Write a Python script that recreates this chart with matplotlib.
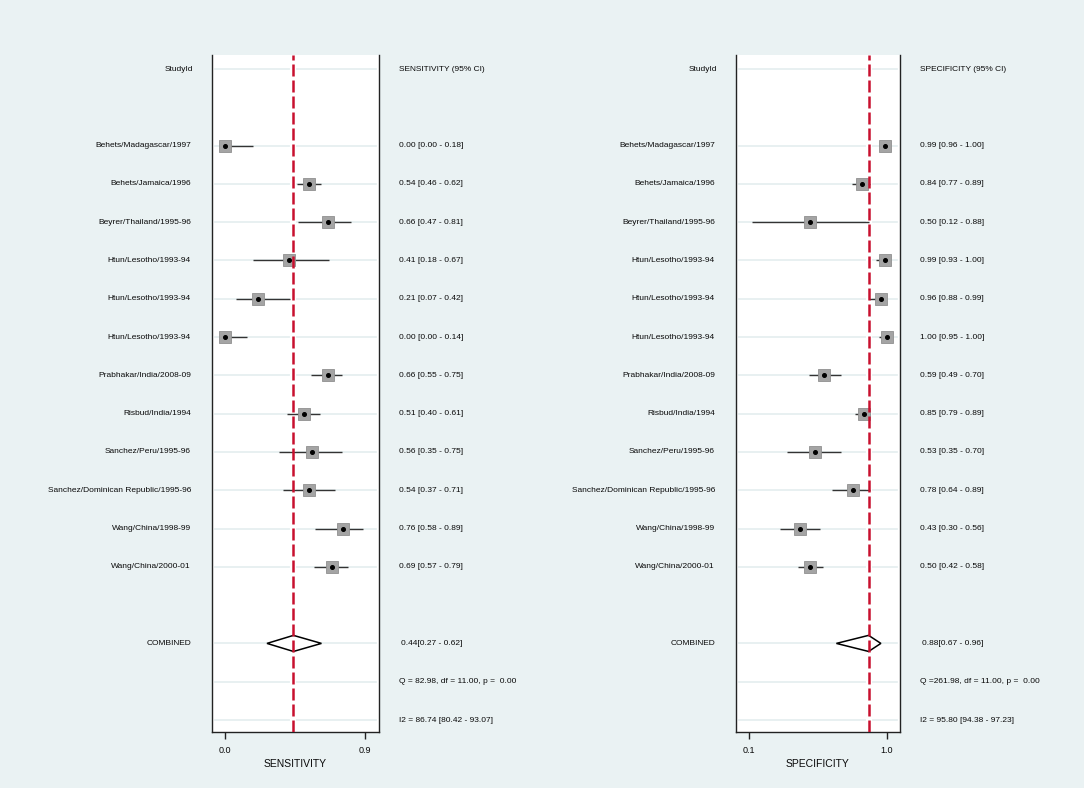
import numpy as np
import matplotlib
matplotlib.use("Agg")
import matplotlib.pyplot as plt
from matplotlib.transforms import blended_transform_factory

plt.rcParams['font.family'] = ['Liberation Sans', 'DejaVu Sans']

# ---------------------------------------------------------------------------
# Data
# ---------------------------------------------------------------------------
studies = [
    "Behets/Madagascar/1997",
    "Behets/Jamaica/1996",
    "Beyrer/Thailand/1995-96",
    "Htun/Lesotho/1993-94",
    "Htun/Lesotho/1993-94",
    "Htun/Lesotho/1993-94",
    "Prabhakar/India/2008-09",
    "Risbud/India/1994",
    "Sanchez/Peru/1995-96",
    "Sanchez/Dominican Republic/1995-96",
    "Wang/China/1998-99",
    "Wang/China/2000-01",
]

sens = [0.00, 0.54, 0.66, 0.41, 0.21, 0.00, 0.66, 0.51, 0.56, 0.54, 0.76, 0.69]
sens_lo = [0.00, 0.46, 0.47, 0.18, 0.07, 0.00, 0.55, 0.40, 0.35, 0.37, 0.58, 0.57]
sens_hi = [0.18, 0.62, 0.81, 0.67, 0.42, 0.14, 0.75, 0.61, 0.75, 0.71, 0.89, 0.79]
sens_pooled = (0.44, 0.27, 0.62)
sens_q = "Q = 82.98, df = 11.00, p =  0.00"
sens_i2 = "I2 = 86.74 [80.42 - 93.07]"

spec = [0.99, 0.84, 0.50, 0.99, 0.96, 1.00, 0.59, 0.85, 0.53, 0.78, 0.43, 0.50]
spec_lo = [0.96, 0.77, 0.12, 0.93, 0.88, 0.95, 0.49, 0.79, 0.35, 0.64, 0.30, 0.42]
spec_hi = [1.00, 0.89, 0.88, 1.00, 0.99, 1.00, 0.70, 0.89, 0.70, 0.89, 0.56, 0.58]
spec_pooled = (0.88, 0.67, 0.96)
spec_q = "Q =261.98, df = 11.00, p =  0.00"
spec_i2 = "I2 = 95.80 [94.38 - 97.23]"

sens_ticks = [0.0, 0.9]
spec_ticks = [0.1, 1.0]

BG = '#EAF2F3'
GRID = '#E4EDEF'
RED = '#C8102E'
TXT = '#0A0A0A'

W, H = 1084, 788


def draw_panel(fig, ax_px, xlim, ticks, est, lo, hi, pooled, q_txt, i2_txt,
               header, xlabel, name_right_px, value_left_px):
    x0, x1 = ax_px
    top, bottom = 55, 732
    ax = fig.add_axes([x0 / W, (H - bottom) / H, (x1 - x0) / W, (bottom - top) / H])
    ax.set_facecolor('white')

    # row layout: 0 header, 2..13 studies, 15 combined, 16 Q, 17 I2
    row_px = (720 - 69) / 17.0
    ax.set_ylim((bottom - 69) / row_px, (top - 69) / row_px)
    ax.set_xlim(*xlim)

    study_rows = np.arange(2, 2 + len(est))
    grid_rows = [0] + list(study_rows) + [15, 16, 17]
    pad = (xlim[1] - xlim[0]) * 0.02
    for r in grid_rows:
        ax.plot([xlim[0] + pad, xlim[1] - pad], [r, r], color=GRID, lw=1.2, zorder=1)

    # white gap in the gridlines around the pooled line
    ax.axvline(pooled[0], color='white', lw=4.5, zorder=2)

    # study CIs and markers
    ax.hlines(study_rows, lo, hi, color='#333333', lw=1.0, zorder=3)
    ax.plot(est, study_rows, 's', ms=8, mfc='#A4A4A4', mec='#909090', mew=0.6, zorder=4)
    ax.plot(est, study_rows, 'o', ms=2.6, color='black', zorder=5)

    # pooled diamond
    p, plo, phi = pooled
    dy = 0.21
    ax.fill([plo, p, phi, p, plo], [15, 15 - dy, 15, 15 + dy, 15],
            facecolor='white', edgecolor='black', lw=1.1, zorder=4)

    ax.axvline(p, color=RED, lw=1.8, linestyle=(0, (4.8, 1.6)), zorder=6)

    for side in ['left', 'right', 'bottom']:
        ax.spines[side].set_linewidth(1.0)
        ax.spines[side].set_color('#222222')
    ax.spines['top'].set_visible(False)
    ax.set_yticks([])
    ax.set_xticks(ticks)
    ax.set_xticklabels([f"{t:.1f}" for t in ticks])
    ax.tick_params(axis='x', direction='out', length=5, width=1.0, pad=5,
                   labelsize=6.5, colors='#222222', labelcolor=TXT)
    ax.set_xlabel(xlabel, fontsize=7.5, color=TXT, labelpad=3)

    # text columns
    tr_names = blended_transform_factory(fig.transFigure, ax.transData)
    xn = name_right_px / W
    xv = value_left_px / W
    fs = 6
    ax.text(xn + 2 / W, 0, "StudyId", ha='right', va='center', fontsize=fs, color=TXT,
            transform=tr_names, clip_on=False)
    ax.text(xv, 0, header, ha='left', va='center', fontsize=fs, color=TXT,
            transform=tr_names, clip_on=False)
    for r, name, e, l, h in zip(study_rows, studies, est, lo, hi):
        ax.text(xn, r, name, ha='right', va='center', fontsize=fs, color=TXT,
                transform=tr_names, clip_on=False)
        ax.text(xv, r, f"{e:.2f} [{l:.2f} - {h:.2f}]", ha='left', va='center',
                fontsize=fs, color=TXT, transform=tr_names, clip_on=False)
    ax.text(xn, 15, "COMBINED", ha='right', va='center', fontsize=fs, color=TXT,
            transform=tr_names, clip_on=False)
    ax.text(xv + 2 / W, 15, f"{p:.2f}[{plo:.2f} - {phi:.2f}]", ha='left', va='center',
            fontsize=fs, color=TXT, transform=tr_names, clip_on=False)
    ax.text(xv, 16, q_txt, ha='left', va='center', fontsize=fs, color=TXT,
            transform=tr_names, clip_on=False)
    ax.text(xv, 17, i2_txt, ha='left', va='center', fontsize=fs, color=TXT,
            transform=tr_names, clip_on=False)
    return ax


fig = plt.figure(figsize=(W / 100, H / 100), dpi=100, facecolor=BG)

# left panel: 0.0 at x=225 px, 0.9 at x=365 px
s_scale = (365 - 225) / 0.9
draw_panel(fig, (212, 379),
           (0.0 - 13 / s_scale, 0.0 + (379 - 225) / s_scale),
           sens_ticks, sens, sens_lo, sens_hi, sens_pooled, sens_q, sens_i2,
           "SENSITIVITY (95% CI)", "SENSITIVITY", 191, 399)

# right panel: 0.1 at x=749 px, 1.0 at x=887 px
c_scale = (887 - 749) / 0.9
draw_panel(fig, (736, 900),
           (0.1 - 13 / c_scale, 0.1 + (900 - 749) / c_scale),
           spec_ticks, spec, spec_lo, spec_hi, spec_pooled, spec_q, spec_i2,
           "SPECIFICITY (95% CI)", "SPECIFICITY", 715, 920)

fig.savefig("out.png", dpi=100, facecolor=BG)
